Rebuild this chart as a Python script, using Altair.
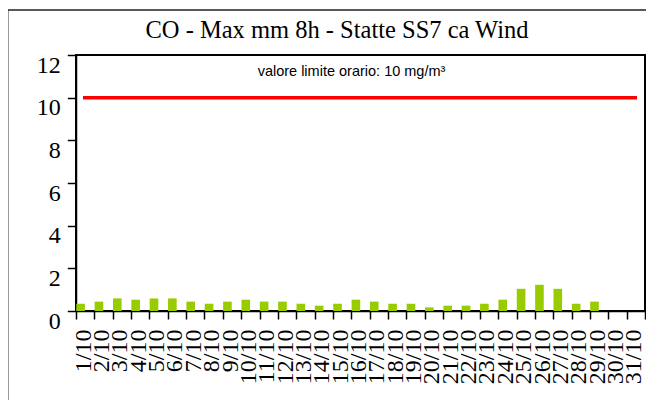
import altair as alt
import pandas as pd

days = ["1/10", "2/10", "3/10", "4/10", "5/10", "6/10", "7/10", "8/10", "9/10", "10/10",
        "11/10", "12/10", "13/10", "14/10", "15/10", "16/10", "17/10", "18/10", "19/10", "20/10",
        "21/10", "22/10", "23/10", "24/10", "25/10", "26/10", "27/10", "28/10", "29/10", "30/10", "31/10"]
co_values = [0.34, 0.44, 0.59, 0.53, 0.59, 0.59, 0.44, 0.34, 0.44, 0.53,
             0.44, 0.44, 0.34, 0.25, 0.34, 0.53, 0.44, 0.34, 0.34, 0.17,
             0.25, 0.25, 0.34, 0.53, 1.04, 1.23, 1.04, 0.34, 0.44, 0.0, 0.0]
limit_value = 10
y_ticks = [0, 2, 4, 6, 8, 10, 12]
title_text = "CO - Max mm 8h - Statte SS7 ca Wind"
limit_label = "valore limite orario: 10 mg/m³"

df = pd.DataFrame({"day": days, "value": co_values})

W, H = 569, 256
one = alt.Data(values=[{}])

x_enc = alt.X(
    "day:N", sort=days,
    scale=alt.Scale(paddingInner=0, paddingOuter=0),
    axis=alt.Axis(
        title=None, tickBand="extent", tickSize=8, tickColor="black", tickWidth=1.5,
        domainColor="black", domainWidth=1.5,
        labelAngle=-90, labelAlign="right", labelBaseline="middle",
        labelFont="Liberation Serif", labelFontSize=24, labelColor="black",
        labelPadding=10, labelOverlap=False, labelOffset=-2,
    ),
)
y_enc = alt.Y(
    "value:Q",
    scale=alt.Scale(domain=[0, 12], nice=False),
    axis=alt.Axis(
        title=None, values=y_ticks, grid=False, tickSize=8.7, tickColor="black", tickWidth=1.5,
        domainColor="black", domainWidth=1.5,
        labelFont="Liberation Serif", labelFontSize=24, labelColor="black",
        labelBaseline="top", labelPadding=7, labelOffset=-2,
    ),
)

bars = alt.Chart(df).mark_bar(
    color="#99CC00", width=alt.RelativeBandSize(0.47), xOffset=-4.6
).encode(x=x_enc, y=y_enc)

limit_rule = alt.Chart(one).mark_rule(color="#FF0000", strokeWidth=3.5).encode(
    y=alt.datum(limit_value), x=alt.value(7), x2=alt.value(561)
)

limit_text = alt.Chart(one).mark_text(
    text=limit_label, font="Liberation Sans", fontSize=14.5, color="black",
    align="center", baseline="alphabetic"
).encode(x=alt.value(275.5), y=alt.value(21))

title = alt.Chart(one).mark_text(
    text=title_text, font="Liberation Serif", fontSize=24.5, color="black",
    align="center", baseline="alphabetic"
).encode(x=alt.value(261), y=alt.value(-17))

frame = alt.Chart(one).mark_rect(
    fill=None, fillOpacity=0, stroke="#222222", strokeWidth=1.5
).encode(x=alt.value(-68.3), y=alt.value(-45), x2=alt.value(700), y2=alt.value(500))

chart = alt.layer(bars, limit_rule, limit_text, title, frame).properties(
    width=W, height=H,
    autosize=alt.AutoSizeParams(type="none"),
    padding={"left": 68, "top": 47, "right": 1, "bottom": 89},
    background="white",
).configure_view(stroke="black", strokeWidth=2)

chart.save("out.html", embed_options={"renderer": "svg", "actions": False})
